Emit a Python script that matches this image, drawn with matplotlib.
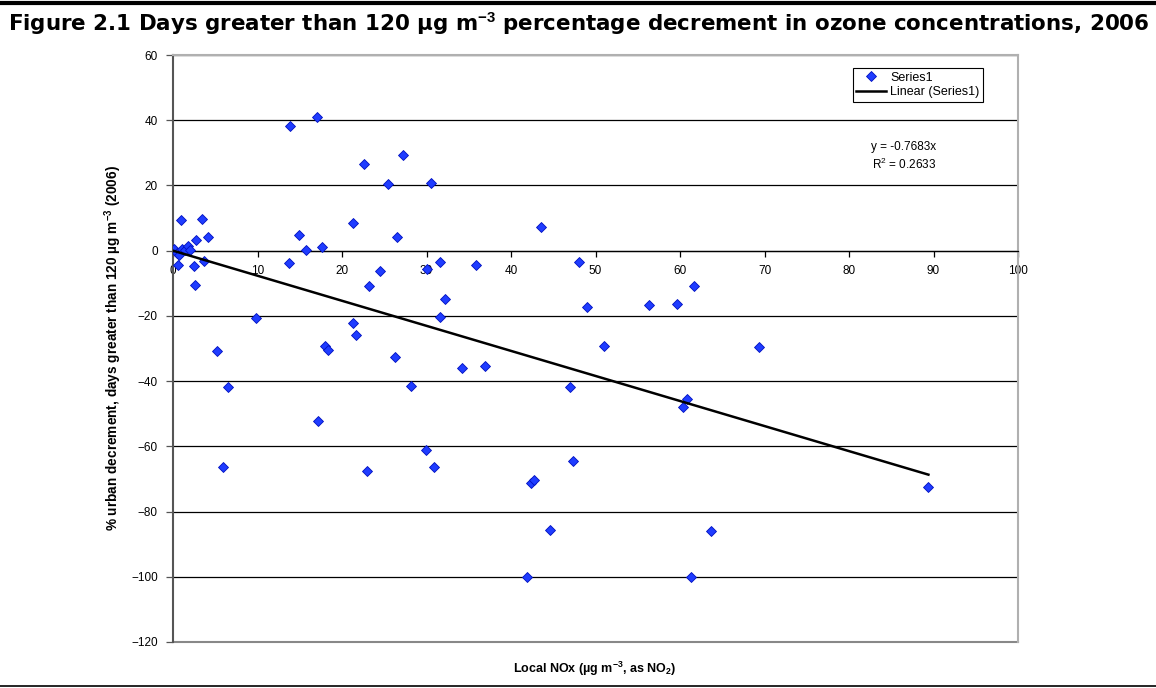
import matplotlib

matplotlib.use("Agg")
import matplotlib.pyplot as plt
from matplotlib.lines import Line2D
import numpy as np

plt.rcParams["font.family"] = ["Liberation Sans", "DejaVu Sans"]
plt.rcParams["mathtext.fontset"] = "custom"
plt.rcParams["mathtext.rm"] = "Liberation Sans"
plt.rcParams["mathtext.bf"] = "Liberation Sans:bold"

# ---------------------------------------------------------------- data ---
# local NOx (ug m-3) vs % urban decrement (days > 120 ug m-3)
nox = [0.15, 0.5, 0.7, 1.1, 1.4, 1.8, 2.0, 0.64, 2.5, 3.66, 2.6, 0.95, 3.43, 2.76, 4.1,
       13.9, 17.05, 22.6, 27.2, 25.5, 30.5, 21.25, 14.96, 26.5, 17.6, 15.7, 13.7,
       24.5, 23.2, 31.6, 30.1, 32.2, 31.6, 9.85, 21.3, 21.7, 5.16, 18.03, 18.38,
       26.3, 6.5, 28.2, 17.2, 5.9, 23.0, 29.95, 30.9, 43.5, 35.9, 48.1, 61.7, 49.0,
       56.3, 59.7, 51.05, 34.2, 36.9, 46.95, 60.85, 60.3, 69.4, 47.3, 42.4, 42.7,
       89.4, 44.6, 63.7, 41.9, 61.3]
decrement = [0.4, -0.6, -1.2, 0.6, 0.3, 1.3, 0.1, -4.5, -4.8, -3.2, -10.6, 9.4, 9.7, 3.2, 4.2,
             38.1, 41.0, 26.7, 29.2, 20.3, 20.6, 8.5, 4.9, 4.1, 1.2, 0.2, -3.7,
             -6.3, -10.9, -3.5, -5.7, -14.7, -20.3, -20.6, -22.1, -25.9, -30.9, -29.2, -30.4,
             -32.5, -41.7, -41.5, -52.3, -66.4, -67.6, -61.0, -66.4, 7.2, -4.5, -3.6, -10.9, -17.3,
             -16.8, -16.4, -29.3, -36.1, -35.3, -41.7, -45.4, -48.0, -29.5, -64.4, -71.2, -70.3,
             -72.6, -85.7, -86.1, -100.0, -100.0]

SLOPE = -0.7683
R2 = 0.2633

x_ticks = list(range(0, 101, 10))
y_ticks = list(range(-120, 61, 20))

# ---------------------------------------------------------------- plot ---
W, H = 1156, 688
fig = plt.figure(figsize=(W / 100, H / 100), dpi=100)
ax = fig.add_axes([173 / W, 1 - 642 / H, 845 / W, 587 / H])

ax.set_xlim(0, 100)
ax.set_ylim(-120, 60)
ax.set_yticks(y_ticks)
ax.set_xticks(x_ticks)
ax.yaxis.grid(True, color="black", lw=0.9)
ax.set_axisbelow(True)

ax.spines["bottom"].set_position(("data", 0))
ax.spines["bottom"].set_color("black")
ax.spines["bottom"].set_linewidth(0.9)
ax.spines["left"].set_color("#555555")
ax.spines["left"].set_linewidth(1.5)
for s in ("top", "right"):
    ax.spines[s].set_color("#b0b0b0")
    ax.spines[s].set_linewidth(1.5)
ax.axhline(-120, color="#888888", lw=1.5, clip_on=False, zorder=1)

ax.tick_params(axis="x", direction="out", length=4, width=0.9, labelsize=8.5, pad=6)
ax.tick_params(axis="y", direction="out", length=5, width=0.9, labelsize=8.5, pad=6,
               color="#555555")

ax.plot(nox, decrement, ls="none", marker="D", ms=4.6, mfc="#1f3cff", mec="#0010c0",
        mew=0.6, label="Series1", zorder=3)

xfit = np.array([0, max(nox)])
ax.plot(xfit, SLOPE * xfit, color="black", lw=1.8, label="Linear (Series1)", zorder=4)

ax.text(86.5, 31.8, f"y = {SLOPE}x", ha="center", va="center", fontsize=8.5)
ax.text(86.5, 26.3, f"R$^{{2}}$ = {R2}", ha="center", va="center", fontsize=8.5)

leg = ax.legend(loc="upper right", bbox_to_anchor=(0.9586, 0.978), fontsize=9,
                frameon=True, fancybox=False, framealpha=1, edgecolor="black",
                borderpad=0.3, handlelength=2.4, handletextpad=0.3, labelspacing=0.2,
                borderaxespad=0)
leg.get_frame().set_linewidth(0.8)

ax.set_ylabel(r"% urban decrement, days greater than 120 µg m$^{\mathbf{-3}}$ (2006)",
              fontsize=9.8, fontweight="bold")
ax.yaxis.set_label_coords(-0.058, 0.5)
fig.text(595 / W, 1 - 669 / H, r"Local NOx (µg m$^{\mathbf{-3}}$, as NO$_{\mathbf{2}}$)",
         ha="center", va="center", fontsize=9, fontweight="bold")

fig.text(8 / W, 1 - 24 / H,
         "Figure 2.1 Days greater than 120 µg m$^{\\mathbf{-3}}$ "
         "percentage decrement in ozone concentrations, 2006",
         ha="left", va="center", fontsize=15.4, fontweight="bold",
         family=["DejaVu Sans"])

fig.add_artist(Line2D([0, 1], [1 - 3 / H, 1 - 3 / H], color="black", lw=3))
fig.add_artist(Line2D([0, 1], [1 - 686 / H, 1 - 686 / H], color="black", lw=1.2))

fig.savefig("out.png", dpi=100)
